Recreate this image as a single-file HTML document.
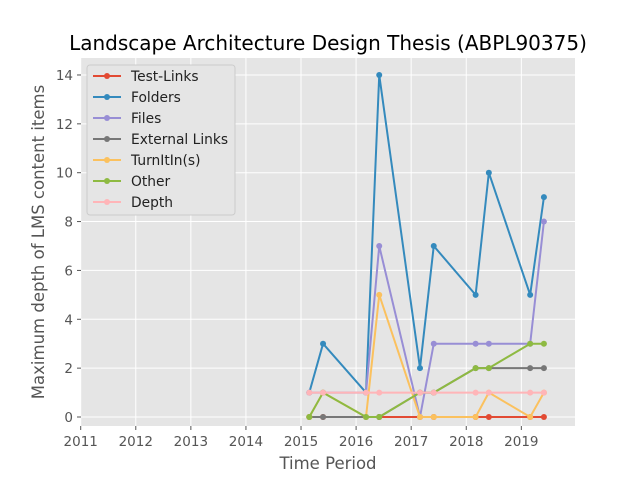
<!DOCTYPE html>
<html><head><meta charset="utf-8"><style>
body{margin:0;background:#fff;}
svg{font-family:"DejaVu Sans","Liberation Sans",sans-serif;}
</style></head><body>
<svg id="c" width="640" height="480" viewBox="0 0 640 480">
<rect x="0" y="0" width="640" height="480" fill="#fff"/>
<text x="328" y="50" font-size="20" text-anchor="middle" fill="#000">Landscape Architecture Design Thesis (ABPL90375)</text>
<rect x="81" y="58" width="494" height="368" fill="#e5e5e5"/>
<g id="grid"></g>
<g id="series"></g>
<g id="axes"></g>
<text x="328" y="469" font-size="16.5" text-anchor="middle" fill="#555">Time Period</text>
<text transform="translate(44,242) rotate(-90)" font-size="16.5" text-anchor="middle" fill="#555">Maximum depth of LMS content items</text>
<g id="legend"></g>
</svg>
<script>
const xs = [2015.15,2015.40,2016.18,2016.42,2017.16,2017.41,2018.17,2018.41,2019.16,2019.41];
const seriesNames = ["Test-Links","Folders","Files","External Links","TurnItIn(s)","Other","Depth"];
const testLinks = [0,0,0,0,0,0,0,0,0,0];
const folders = [1,3,1,14,2,7,5,10,5,9];
const files = [1,1,1,7,0,3,3,3,3,8];
const externalLinks = [0,0,0,0,1,1,2,2,2,2];
const turnitin = [0,1,0,5,0,0,0,1,0,1];
const other = [0,1,0,0,1,1,2,2,3,3];
const depth = [1,1,1,1,1,1,1,1,1,1];
const xTicks = [2011,2012,2013,2014,2015,2016,2017,2018,2019];
const yTicks = [0,2,4,6,8,10,12,14];
const colors = ["#E24A33","#348ABD","#988ED5","#777777","#FBC15E","#8EBA42","#FFB5B8"];
const allSeries = [testLinks,folders,files,externalLinks,turnitin,other,depth];
const NS="http://www.w3.org/2000/svg";
function X(v){return 80.7+(v-2011)*55.08;}
function Y(v){return 417-v*24.43;}
function mk(tag,attrs,parent){const e=document.createElementNS(NS,tag);for(const k in attrs)e.setAttribute(k,attrs[k]);parent.appendChild(e);return e;}
const grid=document.getElementById('grid'),axes=document.getElementById('axes'),ser=document.getElementById('series'),leg=document.getElementById('legend');
xTicks.forEach(t=>{
  const l=mk('line',{x1:X(t),x2:X(t),y1:58,y2:426,stroke:'#fff','stroke-width':1},grid);
  
  
  mk('line',{x1:X(t),x2:X(t),y1:426,y2:430,stroke:'#555'},axes);
  const tx=mk('text',{x:X(t),y:446,'font-size':13.5,'text-anchor':'middle',fill:'#555'},axes);
  tx.textContent=t;
  
  
});
yTicks.forEach(t=>{
  const l=mk('line',{x1:81,x2:575,y1:Y(t),y2:Y(t),stroke:'#fff','stroke-width':1},grid);
  
  
  mk('line',{x1:77,x2:81,y1:Y(t),y2:Y(t),stroke:'#555'},axes);
  const tx=mk('text',{x:73,y:Y(t)+5,'font-size':13.5,'text-anchor':'end',fill:'#555'},axes);
  tx.textContent=t;
  
  
});
allSeries.forEach((d,i)=>{
  const g=mk('g',{},ser);
  
  
  const p=mk('polyline',{points:d.map((v,j)=>X(xs[j])+','+Y(v)).join(' '),fill:'none',stroke:colors[i],'stroke-width':2},g);
  
  
  d.forEach((v,j)=>{
    const c=mk('circle',{cx:X(xs[j]),cy:Y(v),r:3,fill:colors[i]},g);
    
    
  });
});
const box=mk('rect',{x:87,y:65,width:148,height:150,fill:'#e5e5e5',stroke:'#ccc',rx:3},leg);


seriesNames.forEach((n,i)=>{
  const y=76+i*21;
  const g=mk('g',{},leg);
  
  
  mk('line',{x1:93,x2:121,y1:y,y2:y,stroke:colors[i],'stroke-width':2},g);
  mk('circle',{cx:107,cy:y,r:3,fill:colors[i]},g);
  const t=mk('text',{x:131,y:y+5,'font-size':13.8,fill:'#222'},g);
  t.textContent=n;
});
</script>
</body></html>
